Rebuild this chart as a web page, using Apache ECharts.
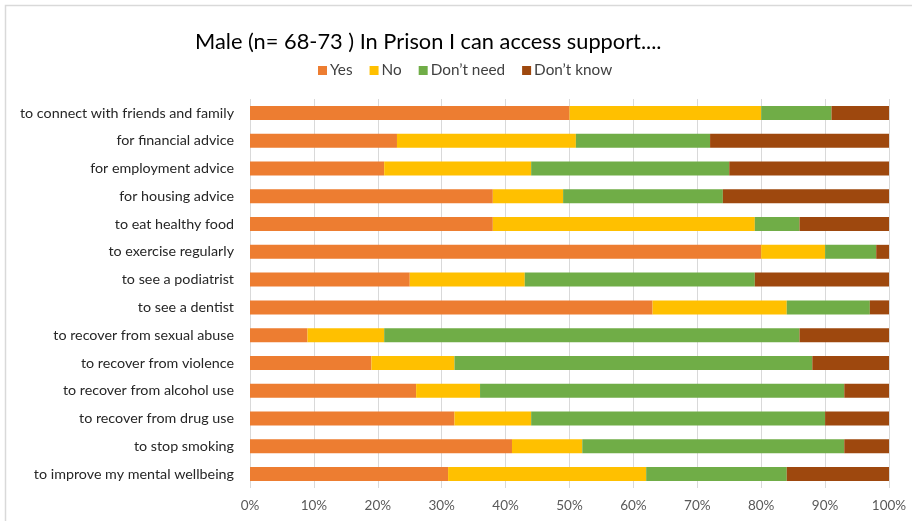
<!DOCTYPE html>
<html>
<head>
<meta charset="utf-8">
<script src="https://cdn.jsdelivr.net/npm/echarts@6/dist/echarts.min.js"></script>
<style>
  html, body { margin: 0; padding: 0; background: #ffffff; }
  #chart { width: 912px; height: 521px; }
</style>
</head>
<body>
<div id="chart"></div>
<script>
// Support areas, listed top to bottom
const categories = [
  'to connect with friends and family',
  'for financial advice',
  'for employment advice',
  'for housing advice',
  'to eat healthy food',
  'to exercise regularly',
  'to see a podiatrist',
  'to see a dentist',
  'to recover from sexual abuse',
  'to recover from violence',
  'to recover from alcohol use',
  'to recover from drug use',
  'to stop smoking',
  'to improve my mental wellbeing'
];

// Percent of responses per answer
const yes       = [50, 23, 21, 38, 38, 80, 25, 63,  9, 19, 26, 32, 41, 31];
const no        = [30, 28, 23, 11, 41, 10, 18, 21, 12, 13, 10, 12, 11, 31];
const dontNeed  = [11, 21, 31, 25,  7,  8, 36, 13, 65, 56, 57, 46, 41, 22];
const dontKnow  = [ 9, 28, 25, 26, 14,  2, 21,  3, 14, 12,  7, 10,  7, 16];

const seriesNames = ['Yes', 'No', 'Don\u2019t need', 'Don\u2019t know'];
const seriesData = [yes, no, dontNeed, dontKnow];
const colors = ['#ED7D31', '#FFC000', '#70AD47', '#9E480E'];

const FONT = 'Lato, "Open Sans", sans-serif';

const chart = echarts.init(document.getElementById('chart'), null, { renderer: 'canvas' });

chart.setOption({
  animation: false,
  backgroundColor: '#ffffff',
  title: {
    text: 'Male (n= 68-73 ) In Prison I can access support....',
    left: 190,
    top: 26,
    textStyle: { fontFamily: FONT, fontSize: 21.8, fontWeight: 'normal', color: '#000000' }
  },
  legend: {
    data: seriesNames,
    left: 313,
    top: 58,
    itemWidth: 9,
    itemHeight: 9,
    itemGap: 17,
    icon: 'rect',
    textStyle: { fontFamily: FONT, fontSize: 15.3, color: '#404040', padding: [0, 0, 0, -2] }
  },
  grid: { left: 250, right: 23, top: 99, bottom: 33, containLabel: false },
  xAxis: {
    type: 'value',
    min: 0,
    max: 100,
    interval: 10,
    axisLine: { show: false },
    axisTick: { show: false },
    axisLabel: { formatter: '{value}%', fontFamily: FONT, fontSize: 13.5, color: '#595959', margin: 11 },
    splitLine: { show: true, lineStyle: { color: '#d9d9d9', width: 1 } }
  },
  yAxis: {
    type: 'category',
    data: categories,
    inverse: true,
    axisLine: { show: false },
    axisTick: { show: false },
    axisLabel: { fontFamily: FONT, fontSize: 14.3, color: '#262626', margin: 16 }
  },
  series: seriesNames.map((name, i) => ({
    name: name,
    type: 'bar',
    stack: 'total',
    barWidth: 14,
    itemStyle: { color: colors[i] },
    data: seriesData[i]
  })),
  graphic: [{
    type: 'rect',
    shape: { x: 5.5, y: 5.5, width: 940, height: 560 },
    style: { fill: 'none', stroke: '#d9d9d9', lineWidth: 1.5 },
    silent: true
  }]
});
</script>
</body>
</html>
